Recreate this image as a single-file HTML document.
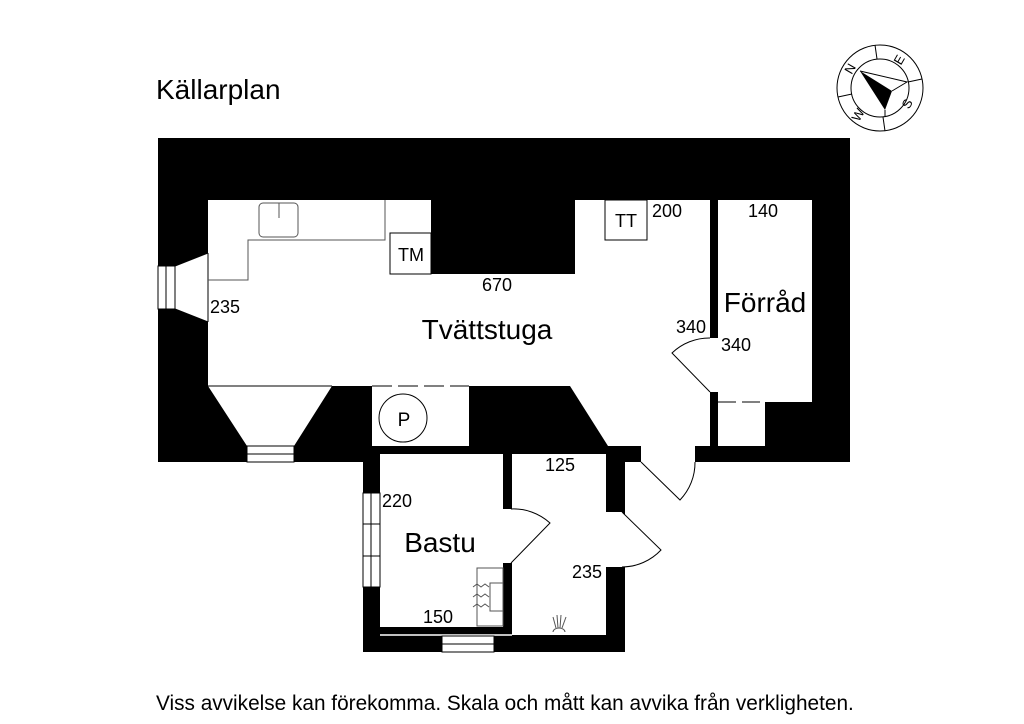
<!DOCTYPE html>
<html><head><meta charset="utf-8"><style>
html,body{margin:0;padding:0;background:#fff;}
svg{display:block;font-family:"Liberation Sans",sans-serif;}
</style></head><body>
<svg width="1024" height="724" viewBox="0 0 1024 724" xmlns="http://www.w3.org/2000/svg">
<rect width="1024" height="724" fill="#fff"/>
<text x="156" y="99" font-size="28">Källarplan</text>
<rect x="158" y="138" width="692" height="324" fill="#000"/>
<rect x="363" y="446" width="262" height="206" fill="#000"/>
<polygon fill="#fff" points="208,200 431,200 431,274 575,274 575,200 710,200 710,446 608,446 570,386 208,386"/>
<rect x="372" y="386" width="97" height="60" fill="#fff"/>
<rect x="718" y="200" width="94" height="202" fill="#fff"/>
<rect x="718" y="402" width="47" height="44" fill="#fff"/>
<rect x="709" y="338" width="10" height="54" fill="#fff"/>
<rect x="641" y="445" width="54" height="18" fill="#fff"/>
<path d="M641,462 L680,500 A54,54 0 0 0 695,462" fill="#fff" stroke="#000" stroke-width="1"/>
<path d="M710,392 L672,353 A54,54 0 0 1 710,338" fill="#fff" stroke="#000" stroke-width="1"/>
<line x1="718" y1="402" x2="765" y2="402" stroke="#000" stroke-width="1" stroke-dasharray="18,6"/>
<polygon fill="#fff" points="158,266 175,266 208,253 208,322 175,309 158,309"/>
<g stroke="#000" stroke-width="1" fill="none">
<line x1="175" y1="266" x2="208" y2="253"/><line x1="175" y1="309" x2="208" y2="322"/>
<rect x="158" y="266" width="17" height="43"/><line x1="166" y1="266" x2="166" y2="309"/>
<line x1="208" y1="253" x2="208" y2="322"/>
</g>
<polygon fill="#fff" points="208,386 332,386 294,446 294,462 247,462 247,446"/>
<g stroke="#000" stroke-width="1" fill="none">
<line x1="208" y1="386" x2="332" y2="386"/>
<rect x="247" y="446" width="47" height="16"/><line x1="247" y1="454" x2="294" y2="454"/>
</g>
<line x1="372" y1="386" x2="469" y2="386" stroke="#000" stroke-width="1" stroke-dasharray="20,6"/>
<circle cx="403" cy="418" r="24" fill="none" stroke="#000" stroke-width="1"/>
<text x="404" y="426" font-size="19" text-anchor="middle">P</text>
<g stroke="#555" stroke-width="1" fill="none">
<polyline points="208,280 248,280 248,240 385,240 385,200"/>
<rect x="259" y="203" width="39" height="34" rx="4"/>
<line x1="279" y1="203" x2="279" y2="218"/>
</g>
<g stroke="#000" stroke-width="1" fill="#fff">
<rect x="390" y="233" width="41" height="41"/>
<rect x="605" y="200" width="42" height="40"/>
</g>
<text x="411" y="261" font-size="18" text-anchor="middle">TM</text>
<text x="626" y="227" font-size="18" text-anchor="middle">TT</text>
<rect x="380" y="454" width="123" height="173" fill="#fff"/>
<rect x="512" y="454" width="94" height="181" fill="#fff"/>
<line x1="380" y1="635" x2="512" y2="635" stroke="#fff" stroke-width="1.5"/>
<rect x="363" y="493" width="17" height="94" fill="#fff" stroke="#000" stroke-width="1"/>
<line x1="371" y1="493" x2="371" y2="587" stroke="#000"/>
<line x1="363" y1="524" x2="380" y2="524" stroke="#000"/>
<line x1="363" y1="556" x2="380" y2="556" stroke="#000"/>
<rect x="442" y="636" width="52" height="16" fill="#fff" stroke="#000" stroke-width="1"/>
<line x1="442" y1="644" x2="494" y2="644" stroke="#000"/>
<rect x="502" y="509" width="11" height="54" fill="#fff"/>
<path d="M511,563 L550,523 A54,54 0 0 0 511,509" fill="none" stroke="#000" stroke-width="1"/>
<rect x="605" y="512" width="18" height="55" fill="#fff"/>
<path d="M622,512 L661,550 A54,54 0 0 1 622,567" fill="#fff" stroke="#000" stroke-width="1"/>
<g stroke="#555" stroke-width="1" fill="none">
<rect x="477" y="568" width="26" height="58"/>
<rect x="490" y="583" width="13" height="28"/>
<path d="M473,587 l4,-3 4,3 4,-3 4,3 M473,597 l4,-3 4,3 4,-3 4,3 M473,607 l4,-3 4,3 4,-3 4,3"/>
</g>
<g stroke="#555" stroke-width="1" fill="none">
<path d="M553,632 a6,4 0 0 1 12,0"/>
<line x1="556" y1="628" x2="553" y2="617"/><line x1="558" y1="628" x2="557" y2="615"/>
<line x1="560" y1="628" x2="561" y2="615"/><line x1="562" y1="628" x2="566" y2="617"/>
</g>
<g font-size="18">
<text x="482" y="291">670</text>
<text x="210" y="313">235</text>
<text x="652" y="217">200</text>
<text x="748" y="217">140</text>
<text x="676" y="333">340</text>
<text x="721" y="351">340</text>
<text x="545" y="471">125</text>
<text x="382" y="507">220</text>
<text x="572" y="578">235</text>
<text x="423" y="623">150</text>
</g>
<text x="487" y="339" font-size="28" text-anchor="middle">Tvättstuga</text>
<text x="765" y="312" font-size="28" text-anchor="middle">Förråd</text>
<text x="440" y="552" font-size="28" text-anchor="middle">Bastu</text>
<g stroke="#000" stroke-width="1" fill="none">
<circle cx="880" cy="88" r="43"/>
<circle cx="880" cy="88" r="29"/>
<line x1="875" y1="45" x2="877" y2="59"/><line x1="922" y1="79" x2="908" y2="82"/>
<line x1="885" y1="131" x2="883" y2="117"/><line x1="838" y1="97" x2="852" y2="94"/>
<polyline points="860,71 907,82 892,91"/>
</g>
<polygon points="860,71 892,91 885,110" fill="#000"/>
<line x1="885" y1="110" x2="885" y2="117" stroke="#000"/>
<g font-size="13" text-anchor="middle">
<text x="0" y="0" transform="translate(854,71) rotate(-60)">N</text>
<text x="0" y="0" transform="translate(903,62) rotate(-60)">E</text>
<text x="0" y="0" transform="translate(911,106) rotate(-60)">S</text>
<text x="0" y="0" transform="translate(862,117) rotate(-60)">W</text>
</g>
<text x="156" y="710" font-size="20.8">Viss avvikelse kan förekomma. Skala och mått kan avvika från verkligheten.</text>
</svg>
</body></html>
